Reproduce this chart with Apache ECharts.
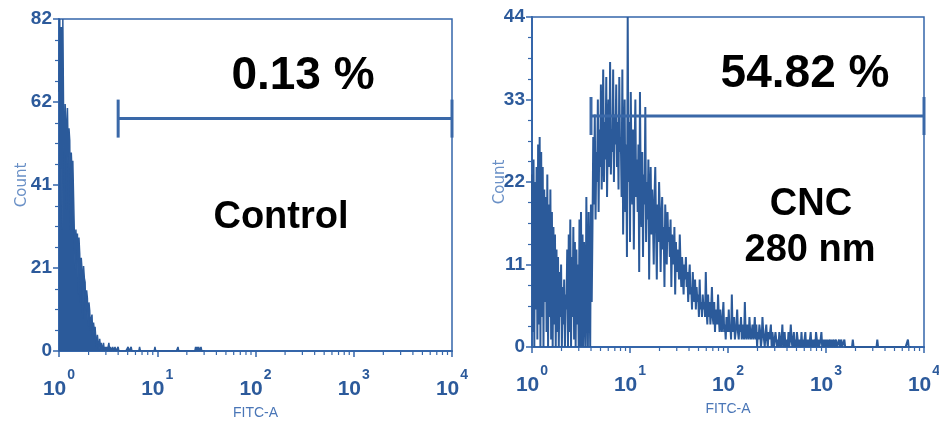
<!DOCTYPE html>
<html>
<head>
<meta charset="utf-8">
<script src="https://cdn.jsdelivr.net/npm/echarts@6/dist/echarts.min.js"></script>
<style>
  html, body { margin: 0; padding: 0; background: #ffffff; }
  #chart { width: 939px; height: 421px; }
</style>
</head>
<body>
<div id="chart"></div>
<script>
// Fluorescence histograms (FITC-A), 512 log channels spanning 10^0 .. 10^4
const CHANNELS_PER_DECADE = 128;

// Control sample: counts per channel, starting at channel 0
const controlCounts = [
  64, 82, 45, 80, 30, 82, 58, 40, 61,
  57, 35, 60, 48, 55,
  52, 30, 49, 44, 47,
  38, 29, 20, 30, 25, 29, 14, 28,
  24, 12, 23, 20, 8, 21, 18,
  17, 9, 15, 13, 6, 12,
  10, 5, 8, 9, 3, 7, 5, 6,
  3, 1, 4, 2, 0, 3, 1, 2, 0, 1, 2, 0, 1,
  0, 1, 0, 0, 2, 0, 1, 0, 0, 1,
  0, 0, 1, 0, 0, 0, 1, 0, 0, 0,
  0, 0, 0, 0, 0, 0, 0, 0, 0, 1,
  0, 0, 0, 1, 0, 0, 0, 0, 0, 0,
  0, 0, 0, 0, 1, 0, 0, 0, 0, 0,
  0, 0, 0, 0, 0, 0, 0, 0, 0, 0,
  0, 0, 0, 0, 1, 0, 0, 0, 0, 0,
  0, 0, 0, 0, 0, 0, 0, 0, 0, 0,
  0, 0, 0, 0, 0, 0, 0, 0, 0, 0,
  0, 0, 0, 0, 1, 0, 0, 0, 0, 0,
  0, 0, 0, 0, 0, 0, 0, 0, 0, 0,
  0, 0, 0, 0, 0, 0, 0, 1, 0, 1,
  0, 1, 0, 0, 1, 0, 0, 0, 0, 0
];

// CNC 280 nm sample: counts per channel, starting at channel 0
const cncCounts = [
  23, 2, 25, 0, 22, 5, 24, 1,
  27, 3, 28, 0, 26,
  4, 24, 0, 21, 6, 20,
  2, 23, 0, 19, 4, 21, 1,
  18, 0, 16, 3, 15, 0, 13, 2,
  12, 0, 10, 4, 11, 0, 8, 3, 9, 0, 7,
  5, 13, 0, 15, 2, 17, 0, 12, 4, 16, 1, 14, 0, 13, 3, 11,
  0, 17, 0, 18, 0, 15, 0,
  14, 5, 0, 20, 7, 0, 18, 9, 0, 19, 6,
  16, 28, 19, 31, 17, 26, 22, 33, 18, 29, 24, 35, 21,
  27, 37, 22, 30, 25, 36, 20, 28, 33, 24, 38, 23, 29, 26, 37, 22, 31, 27, 35, 24, 30, 21, 36, 26,
  28, 20, 37, 15, 25, 33, 18, 27, 12, 44, 22, 30, 14, 34, 24, 19, 29, 13, 26, 33, 20, 25,
  18, 27, 10, 34, 21, 16, 26, 12, 23, 19, 32, 14, 22, 17, 25, 9, 20, 24, 15, 21,
  17, 11, 20, 24, 16, 9, 19, 14, 22, 18, 10, 17, 20, 13, 16, 8, 19, 15, 11, 18, 14, 16,
  12, 17, 8, 15, 13, 11, 16, 7, 14, 10, 13, 12, 9, 15, 11, 8, 12, 10, 7, 11, 9, 12, 8,
  10, 6, 9, 11, 7, 8, 5, 10, 7, 6, 9, 5, 8, 6, 7, 4, 9, 5, 6, 4, 7,
  5, 6, 4, 10, 5, 3, 7, 4, 6, 3, 5, 8, 4, 3, 6, 2, 5, 4, 3, 7, 4, 2, 5,
  3, 2, 4, 6, 2, 3, 1, 4, 3, 2, 5, 2, 3, 1, 7, 2, 3, 4, 1, 2,
  3, 5, 2, 1, 3, 2, 4, 1, 2, 3, 1, 6, 2, 1, 3, 2, 1, 4, 2, 1, 2, 3,
  1, 2, 4, 1, 3, 0, 2, 1, 3, 2, 0, 1, 4, 2, 1, 0, 2, 3, 1, 0,
  2, 1, 1, 3, 0, 2, 1, 0, 1, 2, 1, 0,
  1, 0, 2, 1, 0, 1, 3, 0, 1, 2, 0, 1, 1, 0, 2, 0, 1, 3, 1, 0,
  1, 2, 0, 1, 0, 2, 1, 0, 1, 1, 0, 2, 0, 1, 0, 1, 2, 0, 1, 0,
  1, 0, 1, 2, 0, 1, 0, 0, 1, 0, 2, 1, 0, 1, 0, 0, 1, 2, 0, 1,
  0, 1, 0, 1,
  0, 1, 0, 0, 1, 0, 1, 0, 0, 1, 0, 0, 1, 0, 0, 0, 1, 0, 0, 1,
  0, 0, 0, 1, 0, 0, 0,
  0, 0, 0, 0, 0, 0, 0, 1, 0, 0,
  0, 0, 0, 0, 0, 0, 0, 0, 0, 0,
  0, 0, 0, 0, 0, 0, 0, 0, 0, 0,
  0, 0, 0, 0, 0, 0, 0, 0, 0, 1,
  0, 0, 0, 0, 0, 0, 0, 0, 0, 0,
  0, 0, 0, 0, 0, 0, 0, 0, 0, 0,
  0, 0, 0, 0, 0, 0, 0, 0, 0, 0,
  0, 0, 0, 0, 0, 0, 0, 0, 0, 1,
  0, 0, 0, 0
];

// Count axis ranges (top tick) for each panel
const controlMaxCount = 82;
const cncMaxCount = 44;

// Marker gates: [start, level, end]
const controlGate = [4, 57.4, 10000];
const cncGate = [4, 30.8, 10000];

// Annotations
const controlPercent = '0.13 %';
const cncPercent = '54.82 %';
const controlName = 'Control';
const cncNameLines = ['CNC', '280 nm'];

const xAxisName = 'FITC-A';
const yAxisName = 'Count';

// ---------------------------------------------------------------
const axisBlue = '#3566aa';
const labelBlue = '#2c5a9b';
const nameBlue = '#6a90c6';
const histBlue = '#2b5a9a';
const sans = '"Liberation Sans", Arial, sans-serif';

function channelValue(i) {
  return Math.pow(10, i / CHANNELS_PER_DECADE);
}
function toPoints(counts) {
  return counts.map((c, i) => [channelValue(i), c]);
}

// minor tick positions 2..9 within each decade
const logMinorTicks = [];
for (let d = 0; d < 4; d++) {
  for (let k = 2; k <= 9; k++) logMinorTicks.push(k * Math.pow(10, d));
}

function makeXAxis(gridIndex) {
  return {
    type: 'log', logBase: 10, gridIndex: gridIndex, min: 1, max: 10000,
    splitLine: { show: false },
    axisLine: { lineStyle: { color: axisBlue, width: 2 } },
    axisTick: { length: 6, lineStyle: { color: axisBlue, width: 1.5 } },
    minorTick: { show: false },
    axisLabel: {
      margin: 17,
      formatter: function (v) {
        return '{b|10}{s|' + Math.round(Math.log10(v)) + '}';
      },
      rich: {
        b: { fontFamily: sans, fontWeight: 'bold', fontSize: 21, color: labelBlue, lineHeight: 32, verticalAlign: 'bottom' },
        s: { fontFamily: sans, fontWeight: 'bold', fontSize: 14, color: labelBlue, lineHeight: 32, verticalAlign: 'top', padding: [0, 0, 0, 1] }
      }
    },
    name: xAxisName, nameLocation: 'middle', nameGap: 55, nameMoveOverlap: false,
    nameTextStyle: { fontFamily: sans, fontSize: 14, color: '#4a76b7' }
  };
}

function makeYAxis(gridIndex, maxCount, nameGap) {
  return {
    type: 'value', gridIndex: gridIndex, min: 0, max: maxCount, interval: maxCount / 4,
    splitLine: { show: false },
    axisLine: { show: true, lineStyle: { color: axisBlue, width: 2 } },
    axisTick: { show: true, length: 6, lineStyle: { color: axisBlue, width: 1.5 } },
    minorTick: { show: true, splitNumber: 4, length: 4, lineStyle: { color: axisBlue, width: 1.2 } },
    axisLabel: {
      margin: 7,
      fontFamily: sans, fontWeight: 'bold', fontSize: 19, color: labelBlue,
      formatter: function (v) { return String(Math.round(v)); }
    },
    name: yAxisName, nameLocation: 'middle', nameGap: nameGap, nameMoveOverlap: false,
    nameTextStyle: { fontFamily: '"DejaVu Sans", sans-serif', fontSize: 15, color: nameBlue }
  };
}

function histSeries(idx, counts, filled, width) {
  const s = {
    type: 'line', xAxisIndex: idx, yAxisIndex: idx,
    data: toPoints(counts),
    showSymbol: false, symbol: 'none', smooth: false,
    lineStyle: { color: histBlue, width: width },
    silent: true, z: 2
  };
  if (filled) s.areaStyle = { color: histBlue, opacity: 1 };
  return s;
}

function minorTickSeries(idx) {
  return {
    type: 'custom', xAxisIndex: idx, yAxisIndex: idx, silent: true, clip: false, z: 4,
    data: logMinorTicks.map(v => [v, 0]),
    renderItem: function (params, api) {
      const p = api.coord([api.value(0), 0]);
      return {
        type: 'line',
        shape: { x1: p[0], y1: p[1], x2: p[0], y2: p[1] + 4 },
        style: { stroke: axisBlue, lineWidth: 1.2 }
      };
    }
  };
}

function gateSeries(idx, gate) {
  return {
    type: 'custom', xAxisIndex: idx, yAxisIndex: idx, silent: true, clip: false, z: 5,
    data: [gate],
    renderItem: function (params, api) {
      const a = api.coord([api.value(0), api.value(1)]);
      const b = api.coord([api.value(2), api.value(1)]);
      const cap = 19;
      const st = { stroke: '#3a68a8', lineWidth: 3 };
      return {
        type: 'group',
        children: [
          { type: 'line', shape: { x1: a[0], y1: a[1], x2: b[0], y2: b[1] }, style: st },
          { type: 'line', shape: { x1: a[0], y1: a[1] - cap, x2: a[0], y2: a[1] + cap }, style: st },
          { type: 'line', shape: { x1: b[0], y1: b[1] - cap, x2: b[0], y2: b[1] + cap }, style: st }
        ]
      };
    }
  };
}

function bigText(text, x, y, size) {
  return {
    type: 'text', x: x, y: y, z: 10,
    style: {
      text: text, fill: '#000000',
      font: 'bold ' + size + 'px ' + sans,
      textAlign: 'center', textVerticalAlign: 'middle'
    }
  };
}

const chart = echarts.init(document.getElementById('chart'), null, { renderer: 'canvas' });
chart.setOption({
  animation: false,
  backgroundColor: '#ffffff',
  grid: [
    { left: 59, top: 19, width: 393, height: 332, show: true, borderColor: axisBlue, borderWidth: 1.5,
      backgroundColor: 'transparent', containLabel: false, outerBoundsMode: 'none' },
    { left: 532, top: 17, width: 392, height: 330, show: true, borderColor: axisBlue, borderWidth: 1.5,
      backgroundColor: 'transparent', containLabel: false, outerBoundsMode: 'none' }
  ],
  xAxis: [makeXAxis(0), makeXAxis(1)],
  yAxis: [makeYAxis(0, controlMaxCount, 29), makeYAxis(1, cncMaxCount, 24)],
  series: [
    histSeries(0, controlCounts, true, 1.5),
    histSeries(1, cncCounts, false, 2),
    minorTickSeries(0),
    minorTickSeries(1),
    gateSeries(0, controlGate),
    gateSeries(1, cncGate)
  ],
  graphic: [
    bigText(controlPercent, 303, 76, 46),
    bigText(controlName, 281, 218, 38),
    bigText(cncPercent, 805, 74, 46),
    bigText(cncNameLines[0], 811, 205, 38),
    bigText(cncNameLines[1], 810, 251, 38)
  ]
});
</script>
</body>
</html>
